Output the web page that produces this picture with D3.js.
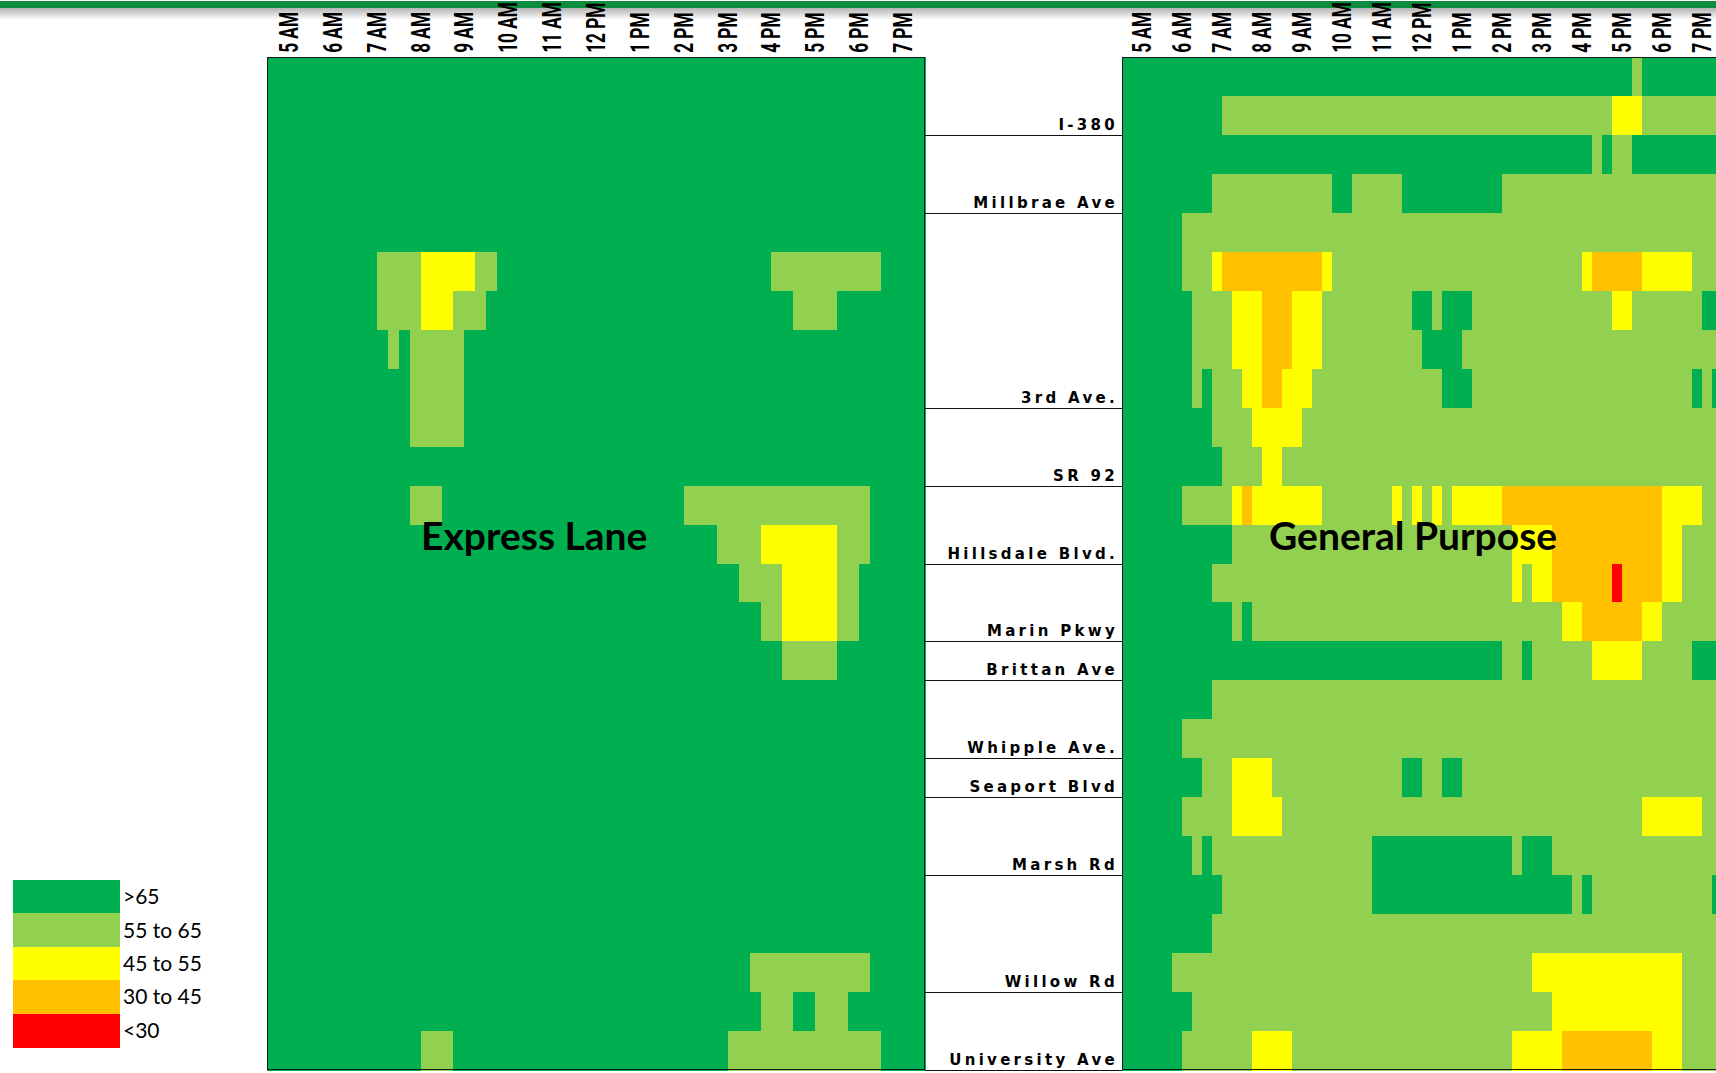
<!DOCTYPE html>
<html>
<head>
<meta charset="utf-8">
<script src="https://cdn.jsdelivr.net/npm/d3@7/dist/d3.min.js"></script>
<style>
  body { margin: 0; background: #fff; }
</style>
</head>
<body>
<div id="main"></div>
<script>
const ctx = {
    w: 1716,
    h: 1073,
    panelTop: 57,
    panelBottom: 1070,
};

// time axis: one label per hour, 15-minute slots
const hours = ["5 AM", "6 AM", "7 AM", "8 AM", "9 AM", "10 AM", "11 AM", "12 PM",
               "1 PM", "2 PM", "3 PM", "4 PM", "5 PM", "6 PM", "7 PM"];
const quarters = ["00", "15", "30", "45"];

// stations and how many segment rows end at each one
const stations = ["I-380", "Millbrae Ave", "3rd Ave.", "SR 92", "Hillsdale Blvd.", "Marin Pkwy",
                  "Brittan Ave", "Whipple Ave.", "Seaport Blvd", "Marsh Rd", "Willow Rd", "University Ave"];
const stationSegments = [2, 2, 5, 2, 2, 2, 1, 2, 1, 2, 3, 2];

// speed bins (mph)
const speedBins = [">65", "55 to 65", "45 to 55", "30 to 45", "<30"];
const binCodes = ["G", "L", "Y", "O", "R"];

// one string per segment row, one group of 4 slots per hour
const expressLane = [
    "GGGG GGGG GGGG GGGG GGGG GGGG GGGG GGGG GGGG GGGG GGGG GGGG GGGG GGGG GGGG",
    "GGGG GGGG GGGG GGGG GGGG GGGG GGGG GGGG GGGG GGGG GGGG GGGG GGGG GGGG GGGG",
    "GGGG GGGG GGGG GGGG GGGG GGGG GGGG GGGG GGGG GGGG GGGG GGGG GGGG GGGG GGGG",
    "GGGG GGGG GGGG GGGG GGGG GGGG GGGG GGGG GGGG GGGG GGGG GGGG GGGG GGGG GGGG",
    "GGGG GGGG GGGG GGGG GGGG GGGG GGGG GGGG GGGG GGGG GGGG GGGG GGGG GGGG GGGG",
    "GGGG GGGG GGLL LLYY YYYL LGGG GGGG GGGG GGGG GGGG GGGG GGLL LLLL LLLL GGGG",
    "GGGG GGGG GGLL LLYY YLLL GGGG GGGG GGGG GGGG GGGG GGGG GGGG LLLL GGGG GGGG",
    "GGGG GGGG GGGL GLLL LLGG GGGG GGGG GGGG GGGG GGGG GGGG GGGG GGGG GGGG GGGG",
    "GGGG GGGG GGGG GLLL LLGG GGGG GGGG GGGG GGGG GGGG GGGG GGGG GGGG GGGG GGGG",
    "GGGG GGGG GGGG GLLL LLGG GGGG GGGG GGGG GGGG GGGG GGGG GGGG GGGG GGGG GGGG",
    "GGGG GGGG GGGG GGGG GGGG GGGG GGGG GGGG GGGG GGGG GGGG GGGG GGGG GGGG GGGG",
    "GGGG GGGG GGGG GLLL GGGG GGGG GGGG GGGG GGGG GGLL LLLL LLLL LLLL LLLG GGGG",
    "GGGG GGGG GGGG GGGG GGGG GGGG GGGG GGGG GGGG GGGG GLLL LYYY YYYY LLLG GGGG",
    "GGGG GGGG GGGG GGGG GGGG GGGG GGGG GGGG GGGG GGGG GGGL LLLY YYYY LLGG GGGG",
    "GGGG GGGG GGGG GGGG GGGG GGGG GGGG GGGG GGGG GGGG GGGG GLLY YYYY LLGG GGGG",
    "GGGG GGGG GGGG GGGG GGGG GGGG GGGG GGGG GGGG GGGG GGGG GGGL LLLL GGGG GGGG",
    "GGGG GGGG GGGG GGGG GGGG GGGG GGGG GGGG GGGG GGGG GGGG GGGG GGGG GGGG GGGG",
    "GGGG GGGG GGGG GGGG GGGG GGGG GGGG GGGG GGGG GGGG GGGG GGGG GGGG GGGG GGGG",
    "GGGG GGGG GGGG GGGG GGGG GGGG GGGG GGGG GGGG GGGG GGGG GGGG GGGG GGGG GGGG",
    "GGGG GGGG GGGG GGGG GGGG GGGG GGGG GGGG GGGG GGGG GGGG GGGG GGGG GGGG GGGG",
    "GGGG GGGG GGGG GGGG GGGG GGGG GGGG GGGG GGGG GGGG GGGG GGGG GGGG GGGG GGGG",
    "GGGG GGGG GGGG GGGG GGGG GGGG GGGG GGGG GGGG GGGG GGGG GGGG GGGG GGGG GGGG",
    "GGGG GGGG GGGG GGGG GGGG GGGG GGGG GGGG GGGG GGGG GGGG GGGG GGGG GGGG GGGG",
    "GGGG GGGG GGGG GGGG GGGG GGGG GGGG GGGG GGGG GGGG GGGG LLLL LLLL LLLG GGGG",
    "GGGG GGGG GGGG GGGG GGGG GGGG GGGG GGGG GGGG GGGG GGGG GLLL GGLL LGGG GGGG",
    "GGGG GGGG GGGG GGLL LGGG GGGG GGGG GGGG GGGG GGGG GGLL LLLL LLLL LLLL GGGG"
];

const generalPurpose = [
    "GGGG GGGG GGGG GGGG GGGG GGGG GGGG GGGG GGGG GGGG GGGG GGGG GGGL GGGG GGGG",
    "GGGG GGGG GGLL LLLL LLLL LLLL LLLL LLLL LLLL LLLL LLLL LLLL LYYY LLLL LLLL",
    "GGGG GGGG GGGG GGGG GGGG GGGG GGGG GGGG GGGG GGGG GGGG GGGL GLLG GGGG GGGG",
    "GGGG GGGG GLLL LLLL LLLL LGGL LLLL GGGG GGGG GGLL LLLL LLLL LLLL LLLL LLLL",
    "GGGG GGLL LLLL LLLL LLLL LLLL LLLL LLLL LLLL LLLL LLLL LLLL LLLL LLLL LLLL",
    "GGGG GGLL LYOO OOOO OOOO YLLL LLLL LLLL LLLL LLLL LLLL LLYO OOOO YYYY YLLL",
    "GGGG GGGL LLLY YYOO OYYY LLLL LLLL LGGL GGGL LLLL LLLL LLLL LYYL LLLL LLGG",
    "GGGG GGGL LLLY YYOO OYYY LLLL LLLL LLGG GGLL LLLL LLLL LLLL LLLL LLLL LLLL",
    "GGGG GGGL GLLL YYOO YYYL LLLL LLLL LLLL GGGL LLLL LLLL LLLL LLLL LLLL LGLG",
    "GGGG GGGG GLLL LYYY YYLL LLLL LLLL LLLL LLLL LLLL LLLL LLLL LLLL LLLL LLLL",
    "GGGG GGGG GGLL LLYY LLLL LLLL LLLL LLLL LLLL LLLL LLLL LLLL LLLL LLLL LLLL",
    "GGGG GGLL LLLY OYYY YYYY LLLL LLLY LYLY LYYY YYOO OOOO OOOO OOOO OOYY YYLL",
    "GGGG GGGG GGGL LLLL LLLL LLLL LLLL LLLL LLLL LLLY YYYO OOOO OOOO OOYY LLLL",
    "GGGG GGGG GLLL LLLL LLLL LLLL LLLL LLLL LLLL LLLY LYYO OOOO OROO OOYY LLLL",
    "GGGG GGGG GGGL GLLL LLLL LLLL LLLL LLLL LLLL LLLL LLLL YYOO OOOO YYLL LLLL",
    "GGGG GGGG GGGG GGGG GGGG GGGG GGGG GGGG GGGG GGLL GLLL LLLY YYYY LLLL LGGG",
    "GGGG GGGG GLLL LLLL LLLL LLLL LLLL LLLL LLLL LLLL LLLL LLLL LLLL LLLL LLLL",
    "GGGG GGLL LLLL LLLL LLLL LLLL LLLL LLLL LLLL LLLL LLLL LLLL LLLL LLLL LLLL",
    "GGGG GGGG LLLY YYYL LLLL LLLL LLLL GGLL GGLL LLLL LLLL LLLL LLLL LLLL LLLL",
    "GGGG GGLL LLLY YYYY LLLL LLLL LLLL LLLL LLLL LLLL LLLL LLLL LLLL YYYY YYLL",
    "GGGG GGGL GLLL LLLL LLLL LLLL LGGG GGGG GGGG GGGL GGGL LLLL LLLL LLLL LLLL",
    "GGGG GGGG GGLL LLLL LLLL LLLL LGGG GGGG GGGG GGGG GGGG GLGL LLLL LLLL LLLG",
    "GGGG GGGG GLLL LLLL LLLL LLLL LLLL LLLL LLLL LLLL LLLL LLLL LLLL LLLL LLLL",
    "GGGG GLLL LLLL LLLL LLLL LLLL LLLL LLLL LLLL LLLL LYYY YYYY YYYY YYYY LLLL",
    "GGGG GGGL LLLL LLLL LLLL LLLL LLLL LLLL LLLL LLLL LLLY YYYY YYYY YYYY LLLL",
    "GGGG GGLL LLLL LYYY YLLL LLLL LLLL LLLL LLLL LLLY YYYY OOOO OOOO OYYY LLLL"
];

const binColors = ["#00b050", "#92d050", "#ffff00", "#ffc000", "#ff0000"];

const slots = hours.flatMap(h => quarters.map(q => h + ":" + q));
const rowIds = d3.range(d3.sum(stationSegments));
const yScale = d3.scaleBand().domain(rowIds).range([ctx.panelTop, ctx.panelBottom]);
const colorScale = d3.scaleOrdinal().domain(binCodes).range(binColors);

function drawPanel(svgEl, rows, x0, x1, title, titleDx) {
    const xScale = d3.scaleBand().domain(slots).range([x0, x1]);
    const hourScale = d3.scaleBand().domain(hours).range([x0, x1]);

    const cells = rows.flatMap((r, i) =>
        r.replace(/ /g, "").split("").map((c, j) => ({row: rowIds[i], slot: slots[j], code: c})));

    const g = svgEl.append("g");

    g.selectAll("rect.cell")
     .data(cells)
     .join("rect")
     .attr("class", "cell")
     .attr("x", d => xScale(d.slot))
     .attr("y", d => yScale(d.row))
     .attr("width", xScale.bandwidth() + 0.6)
     .attr("height", yScale.bandwidth() + 0.6)
     .attr("fill", d => colorScale(d.code));

    g.append("rect")
     .attr("x", x0 + 0.5)
     .attr("y", ctx.panelTop + 0.5)
     .attr("width", x1 - x0 - 1)
     .attr("height", ctx.panelBottom - ctx.panelTop - 1)
     .attr("fill", "none")
     .attr("stroke", "#1a1a1a")
     .attr("stroke-width", 1);

    // hour labels, rotated and squeezed to a condensed look
    const axis = g.append("g")
     .attr("transform", `translate(0,${ctx.panelTop})`)
     .call(d3.axisTop(hourScale).tickSize(0));
    axis.select(".domain").remove();
    axis.selectAll("text")
     .attr("transform", "rotate(-90) scale(0.69,1)")
     .attr("text-anchor", "start")
     .attr("x", 6)
     .attr("y", 0)
     .attr("dy", "0.36em")
     .style("font-family", "Roboto, 'DejaVu Sans', sans-serif")
     .style("font-weight", "bold")
     .style("font-size", "25px")
     .style("fill", "#000");

    g.append("text")
     .attr("x", x0 + titleDx)
     .attr("y", 550)
     .style("font-family", "Lato, 'Open Sans', sans-serif")
     .style("font-weight", "bold")
     .style("font-size", "39px")
     .style("fill", "#000")
     .text(title);
}

function drawStations(svgEl, x0, x1) {
    let end = 0;
    const marks = stations.map((s, i) => {
        end += stationSegments[i];
        return {name: s, row: rowIds[end - 1]};
    });
    const g = svgEl.append("g");
    g.selectAll("line")
     .data(marks)
     .join("line")
     .attr("x1", x0)
     .attr("x2", x1)
     .attr("y1", d => Math.round(yScale(d.row) + yScale.bandwidth()) + 0.5)
     .attr("y2", d => Math.round(yScale(d.row) + yScale.bandwidth()) + 0.5)
     .attr("stroke", "#111")
     .attr("stroke-width", 1);
    g.selectAll("text")
     .data(marks)
     .join("text")
     .attr("x", x1 - 4)
     .attr("y", d => yScale(d.row) + yScale.bandwidth() - 5)
     .attr("text-anchor", "end")
     .style("font-family", "'DejaVu Sans', sans-serif")
     .style("font-weight", "bold")
     .style("font-size", "15px")
     .style("letter-spacing", "3.3px")
     .style("fill", "#000")
     .text(d => d.name);
}

function drawLegend(svgEl) {
    const ly = d3.scaleBand().domain(speedBins).range([880, 1047]);
    const g = svgEl.append("g");
    g.selectAll("rect")
     .data(speedBins)
     .join("rect")
     .attr("x", 13)
     .attr("y", d => ly(d))
     .attr("width", 107)
     .attr("height", ly.bandwidth() + 0.5)
     .attr("fill", (d, i) => colorScale(binCodes[i]));
    g.selectAll("text")
     .data(speedBins)
     .join("text")
     .attr("x", 123)
     .attr("y", d => ly(d) + ly.bandwidth() / 2)
     .attr("dy", "0.36em")
     .style("font-family", "Lato, sans-serif")
     .style("font-size", "21px")
     .style("fill", "#000")
     .text(d => d);
}

function createViz() {
    const svgEl = d3.select("#main").append("svg")
      .attr("width", ctx.w)
      .attr("height", ctx.h)
      .style("display", "block")
      .attr("shape-rendering", "crispEdges");

    const grad = svgEl.append("defs").append("linearGradient")
      .attr("id", "shade").attr("x1", 0).attr("x2", 0).attr("y1", 0).attr("y2", 1);
    grad.append("stop").attr("offset", "0%").attr("stop-color", "#b4b4b4");
    grad.append("stop").attr("offset", "100%").attr("stop-color", "#ffffff");

    svgEl.append("rect").attr("x", 0).attr("y", 8).attr("width", ctx.w).attr("height", 12).attr("fill", "url(#shade)");
    svgEl.append("rect").attr("x", 0).attr("y", 1).attr("width", ctx.w).attr("height", 7).attr("fill", "#0c8c3e");

    drawPanel(svgEl, expressLane, 267, 925, "Express Lane", 154);
    drawPanel(svgEl, generalPurpose, 1122, 1722, "General Purpose", 147);
    drawStations(svgEl, 925, 1122);
    drawLegend(svgEl);
}

createViz();
</script>
</body>
</html>
